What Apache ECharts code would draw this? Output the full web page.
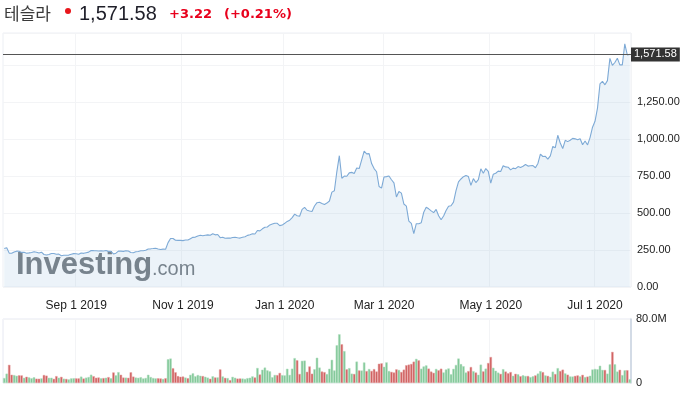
<!DOCTYPE html>
<html>
<head>
<meta charset="utf-8">
<script src="https://cdn.jsdelivr.net/npm/echarts@6.0.0/dist/echarts.min.js"></script>
<style>
  html, body { margin: 0; padding: 0; background: #fff; }
  #chart { width: 689px; height: 399px; }
</style>
</head>
<body>
<div id="chart"></div>
<script>
// trading days per month (Jul 23 2019 .. Jul 22 2020)
const tradingDays = [
  ['2019-07', [23,24,25,26,29,30,31]],
  ['2019-08', [1,2,5,6,7,8,9,12,13,14,15,16,19,20,21,22,23,26,27,28,29,30]],
  ['2019-09', [3,4,5,6,9,10,11,12,13,16,17,18,19,20,23,24,25,26,27,30]],
  ['2019-10', [1,2,3,4,7,8,9,10,11,14,15,16,17,18,21,22,23,24,25,28,29,30,31]],
  ['2019-11', [1,4,5,6,7,8,11,12,13,14,15,18,19,20,21,22,25,26,27,29]],
  ['2019-12', [2,3,4,5,6,9,10,11,12,13,16,17,18,19,20,23,24,26,27,30,31]],
  ['2020-01', [2,3,6,7,8,9,10,13,14,15,16,17,21,22,23,24,27,28,29,30,31]],
  ['2020-02', [3,4,5,6,7,10,11,12,13,14,18,19,20,21,24,25,26,27,28]],
  ['2020-03', [2,3,4,5,6,9,10,11,12,13,16,17,18,19,20,23,24,25,26,27,30,31]],
  ['2020-04', [1,2,3,6,7,8,9,13,14,15,16,17,20,21,22,23,24,27,28,29,30]],
  ['2020-05', [1,4,5,6,7,8,11,12,13,14,15,18,19,20,21,22,26,27,28,29]],
  ['2020-06', [1,2,3,4,5,8,9,10,11,12,15,16,17,18,19,22,23,24,25,26,29,30]],
  ['2020-07', [1,2,6,7,8,9,10,13,14,15,16,17,20,21,22]]
];

// closing price
const closes = [
  260.17, 264.88, 228.82, 228.04, 235.77, 242.26, 241.61,
  233.85, 234.34, 228.32, 230.75, 233.42, 238.30, 235.01, 229.01, 235.00, 219.62, 215.64, 219.94, 226.83, 225.86, 220.83, 222.15, 211.40, 215.00, 214.08, 215.59, 221.71, 225.61,
  225.01, 220.68, 229.58, 227.45, 231.79, 235.54, 247.10, 245.87, 245.20, 242.81, 244.79, 243.49, 246.60, 240.62, 241.23, 223.21, 228.70, 242.56, 242.13, 240.87,
  244.69, 243.13, 233.03, 231.43, 237.72, 240.05, 244.53, 244.74, 247.89, 256.96, 257.89, 259.75, 261.97, 256.95, 253.50, 255.58, 254.68, 299.68, 328.13, 327.71, 316.22, 315.01, 314.92,
  313.31, 317.47, 317.22, 326.58, 335.54, 337.14, 345.09, 349.93, 346.11, 349.35, 352.17, 349.99, 359.52, 352.22, 354.83, 333.04, 336.34, 328.92, 331.29, 329.94,
  334.87, 336.20, 333.03, 330.37, 335.89, 339.53, 348.84, 352.70, 359.68, 358.39, 381.50, 378.99, 393.15, 404.04, 405.59, 419.22, 425.25, 430.94, 430.38, 414.70, 418.33,
  430.26, 443.01, 451.54, 469.06, 492.14, 481.34, 478.15, 524.86, 537.92, 518.50, 513.49, 510.50, 547.20, 569.56, 572.20, 564.82, 558.02, 566.90, 580.99, 640.81, 650.57,
  780.00, 887.06, 734.70, 748.96, 748.07, 771.28, 774.38, 767.29, 804.00, 800.03, 858.40, 917.42, 899.41, 901.00, 833.79, 799.91, 778.80, 679.00, 667.99,
  743.62, 745.51, 749.50, 724.54, 703.48, 608.00, 645.33, 634.23, 560.55, 546.62, 445.07, 430.20, 361.22, 427.64, 427.53, 434.29, 505.00, 539.25, 528.16, 514.36, 502.13, 524.00,
  481.56, 454.47, 480.01, 516.24, 545.45, 548.84, 573.00, 650.95, 709.89, 729.83, 745.21, 753.89, 746.36, 686.72, 732.11, 705.63, 725.15, 798.75, 769.12, 800.51, 781.88,
  701.32, 761.19, 768.21, 782.58, 780.04, 819.42, 811.29, 809.41, 790.96, 803.33, 799.17, 813.63, 808.01, 815.56, 827.60, 816.88, 818.87, 820.23, 805.81, 835.00,
  898.10, 881.56, 882.96, 864.38, 885.66, 949.92, 940.67, 1025.05, 972.84, 935.28, 990.90, 982.13, 991.79, 1003.96, 1000.90, 994.32, 1001.78, 960.85, 985.98, 959.74, 1009.35, 1079.81,
  1119.63, 1208.66, 1371.58, 1389.86, 1365.88, 1394.28, 1544.65, 1497.06, 1516.80, 1546.01, 1500.64, 1500.84, 1643.00, 1568.36, 1571.58
];

// volume, millions of shares
const volumes = [
  6.2, 11.7, 22.7, 10.3, 9.9, 9.0, 9.6,
  9.5, 6.5, 7.8, 7.0, 6.0, 7.1, 5.4, 5.4, 5.8, 10.0, 9.2, 6.5, 6.6, 5.2, 8.6, 6.6, 7.7, 5.4, 5.1, 4.5, 5.8, 6.0,
  5.8, 5.8, 8.0, 5.6, 6.7, 7.5, 10.4, 8.5, 6.6, 6.9, 5.9, 6.2, 6.6, 7.4, 5.9, 13.2, 9.6, 13.6, 10.3, 6.8,
  6.7, 6.5, 13.4, 8.0, 6.8, 6.5, 7.3, 5.7, 6.3, 10.3, 7.5, 6.2, 5.8, 5.9, 5.7, 5.1, 6.0, 29.7, 30.6, 18.5, 13.4, 8.6, 7.8,
  8.0, 6.8, 6.0, 10.2, 12.1, 8.4, 10.0, 9.1, 8.7, 7.8, 6.7, 5.3, 8.4, 6.9, 7.0, 17.0, 8.2, 6.4, 6.2, 3.6,
  7.7, 6.6, 5.5, 5.6, 5.6, 5.1, 6.1, 6.6, 8.3, 6.9, 18.8, 10.6, 16.6, 19.3, 15.8, 14.6, 7.2, 10.1, 9.9, 12.6, 9.8,
  9.5, 17.8, 10.1, 17.9, 31.1, 28.4, 11.3, 27.7, 28.0, 14.0, 20.7, 11.7, 17.2, 31.6, 19.3, 14.3, 13.6, 11.2, 17.8, 29.0, 15.7,
  47.2, 60.9, 48.4, 39.9, 17.1, 18.6, 11.7, 11.3, 26.8, 15.7, 15.6, 25.7, 14.9, 17.5, 15.1, 17.4, 14.4, 24.1, 24.6,
  20.2, 25.8, 15.0, 13.9, 13.1, 17.1, 16.3, 13.8, 16.7, 22.2, 23.0, 23.8, 26.7, 30.2, 28.3, 17.9, 20.7, 22.0, 18.0, 14.3, 12.7, 17.6,
  15.9, 17.9, 13.2, 16.9, 18.2, 11.0, 17.7, 22.6, 30.6, 23.6, 21.0, 13.1, 14.9, 20.0, 14.8, 13.1, 10.3, 23.0, 14.5, 18.0, 25.0,
  32.5, 19.0, 15.3, 13.0, 11.4, 17.3, 14.3, 12.1, 13.7, 9.0, 11.5, 10.9, 8.5, 9.6, 8.8, 8.8, 7.4, 8.3, 9.5, 11.8,
  14.9, 13.6, 9.5, 8.9, 7.7, 14.2, 11.2, 18.6, 15.0, 16.7, 12.0, 10.4, 8.2, 8.1, 8.9, 9.5, 8.2, 10.2, 7.4, 8.0, 9.0, 16.9,
  17.6, 17.2, 21.6, 16.4, 16.3, 11.7, 23.3, 38.9, 23.4, 14.3, 16.5, 9.9, 15.9, 16.0, 4.8
];

const lastPrice = 1571.58;
const priceTicks = [0, 250, 500, 750, 1000, 1250];
const monthNames = ['Jan','Feb','Mar','Apr','May','Jun','Jul','Aug','Sep','Oct','Nov','Dec'];

var dates = [];
var labelIdx = {};
tradingDays.forEach(function (m, mi) {
  m[1].forEach(function (d, di) {
    if (mi > 0 && di === 0 && parseInt(m[0].slice(5), 10) % 2 === 1) labelIdx[dates.length] = true;
    dates.push(m[0] + '-' + (d < 10 ? '0' + d : d));
  });
});

function showIdx(index) { return !!labelIdx[index]; }
function fmtPrice(v) {
  return v.toLocaleString('en-US', { minimumFractionDigits: 2, maximumFractionDigits: 2 });
}

var volData = volumes.map(function (v, i) {
  var up = i === 0 || closes[i] >= closes[i - 1];
  return {
    value: v,
    itemStyle: up
      ? { color: '#80c797', borderColor: '#b2dfc0', borderWidth: 0.5 }
      : { color: '#cf5e5e', borderColor: '#e6a3a3', borderWidth: 0.5 }
  };
});

var gridLine = { color: '#f3f4f6', width: 1 };

var myChart = echarts.init(document.getElementById('chart'));
var option = {
  animation: false,
  textStyle: { fontFamily: 'Arial, "Liberation Sans", sans-serif' },
  graphic: [
    { type: 'text', x: 4, y: 14, style: { text: '테슬라', font: '17px "Noto Sans CJK KR"', fill: '#3a3a3a', textVerticalAlign: 'middle' } },
    { type: 'circle', shape: { cx: 68, cy: 11, r: 3 }, style: { fill: '#e8161b' } },
    { type: 'text', x: 79, y: 14, style: { text: fmtPrice(lastPrice), font: '20px Arial', fill: '#1e1e28', textVerticalAlign: 'middle' } },
    { type: 'text', x: 169, y: 15, style: { text: '+3.22', font: 'bold 13px "DejaVu Sans"', fill: '#e8001c', textVerticalAlign: 'middle' } },
    { type: 'text', x: 224, y: 15, style: { text: '(+0.21%)', font: 'bold 13px "DejaVu Sans"', fill: '#e8001c', textVerticalAlign: 'middle' } },
    // watermark
    { type: 'text', x: 16, y: 265, z: 1, style: { text: 'Investing', font: 'bold 31px Arial', fill: '#72777c', textVerticalAlign: 'middle' } },
    { type: 'text', x: 152, y: 269, z: 1, style: { text: '.com', font: '20px Arial', fill: '#72777c', textVerticalAlign: 'middle' } }
  ],
  grid: [
    { left: 3, right: 58, top: 33, height: 254, show: true, borderColor: '#eceff4', borderWidth: 1 },
    { left: 3, right: 58, top: 319, height: 64, show: true, borderColor: '#e6e8f2', borderWidth: 1 }
  ],
  xAxis: [
    {
      type: 'category', gridIndex: 0, data: dates, boundaryGap: true,
      axisLine: { show: false }, axisTick: { show: false },
      axisLabel: {
        interval: showIdx, color: '#222', fontSize: 12, margin: 13,
        formatter: function (v) {
          return monthNames[parseInt(v.slice(5, 7), 10) - 1] + ' 1 ' + v.slice(0, 4);
        }
      },
      splitLine: { show: true, interval: showIdx, lineStyle: gridLine }
    },
    {
      type: 'category', gridIndex: 1, data: dates, boundaryGap: true,
      axisLine: { show: false }, axisTick: { show: false }, axisLabel: { show: false },
      splitLine: { show: true, interval: showIdx, lineStyle: gridLine }
    }
  ],
  yAxis: [
    {
      type: 'value', gridIndex: 0, position: 'right', min: 0, max: 1716, interval: 250,
      axisLine: { show: false }, axisTick: { show: false },
      axisLabel: {
        color: '#222', fontSize: 11, margin: 6, showMaxLabel: false,
        formatter: function (v) { return priceTicks.indexOf(v) >= 0 ? fmtPrice(v) : ''; }
      },
      splitLine: { lineStyle: gridLine }
    },
    {
      type: 'value', gridIndex: 1, position: 'right', min: 0, max: 80, interval: 80,
      axisLine: { show: true, lineStyle: { color: '#c9d3e0', width: 1.5 } }, axisTick: { show: false },
      axisLabel: {
        color: '#222', fontSize: 11, margin: 5,
        formatter: function (v) { return v === 0 ? '0' : v.toFixed(1) + 'M'; }
      },
      splitLine: { lineStyle: gridLine }
    }
  ],
  series: [
    {
      type: 'line', xAxisIndex: 0, yAxisIndex: 0, data: closes,
      showSymbol: false, symbol: 'none', z: 3,
      lineStyle: { color: '#7eaad6', width: 1.1 },
      areaStyle: { color: 'rgba(150,188,222,0.25)' },
      markLine: {
        silent: true, symbol: ['none', 'none'],
        data: [{ yAxis: lastPrice }],
        lineStyle: { color: '#555', width: 1, type: 'solid' },
        label: {
          position: 'end', distance: 0, formatter: fmtPrice(lastPrice),
          color: '#fff', backgroundColor: '#333', fontSize: 11,
          padding: [2, 3, 1, 3]
        }
      }
    },
    {
      type: 'bar', xAxisIndex: 1, yAxisIndex: 1, data: volData,
      barCategoryGap: '4%'
    }
  ]
};
myChart.setOption(option);
</script>
</body>
</html>
